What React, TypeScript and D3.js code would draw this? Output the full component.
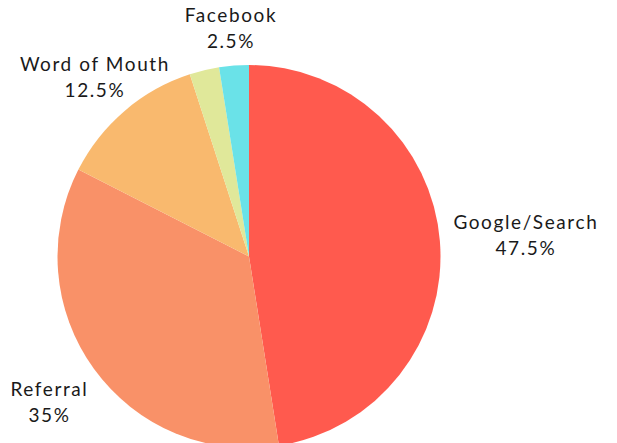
import React, { useEffect, useRef } from "react";
import * as d3 from "d3";

const categories = ["Google/Search", "Referral", "Word of Mouth", "Other", "Facebook"];
const values = [47.5, 35, 12.5, 2.5, 2.5];
const valueLabels = ["47.5%", "35%", "12.5%", "2.5%", "2.5%"];
const showLabel = [true, true, true, false, true];
const colors = ["#FF5A4E", "#F99168", "#F9B96E", "#E0E89A", "#6AE2E8"];

const W = 617;
const H = 443;

export default function App() {
  const ref = useRef<SVGSVGElement | null>(null);

  useEffect(() => {
    const svg = d3.select(ref.current);
    svg.selectAll("*").remove();
    const cx = 249;
    const cy = 256.5;
    const R = 191.5;
    const labelR = 205;

    const data = categories.map((c, i) => ({ name: c, value: values[i], pct: valueLabels[i], show: showLabel[i], color: colors[i] }));
    const pie = d3.pie<any>().value((d: any) => d.value).sort(null);
    const arcs = pie(data);
    const arc = d3.arc<any>().innerRadius(0).outerRadius(R);

    const g = svg.append("g").attr("transform", `translate(${cx},${cy})`);
    g.selectAll("path")
      .data(arcs)
      .enter()
      .append("path")
      .attr("d", arc as any)
      .attr("fill", (d: any) => d.data.color);

    arcs.forEach((a: any) => {
      if (!a.data.show) return;
      const mid = (a.startAngle + a.endAngle) / 2;
      const ux = Math.sin(mid);
      const uy = -Math.cos(mid);
      const lg = g.append("g");
      const t = lg
        .append("text")
        .attr("text-anchor", "middle")
        .attr("font-family", "Lato, 'Open Sans', sans-serif")
        .attr("font-weight", 400)
        .attr("font-size", 19)
        .attr("letter-spacing", 1.6)
        .attr("fill", "#1a1a1a");
      t.append("tspan").attr("x", 0).attr("y", 0).text(a.data.name);
      t.append("tspan").attr("x", 0).attr("y", 26).text(a.data.pct);
      const bb = (t.node() as SVGTextElement).getBBox();
      const hw = bb.width / 2;
      const hh = bb.height / 2;
      const bcx = bb.x + hw;
      const bcy = bb.y + hh;
      const tx = Math.abs(ux) > 1e-6 ? hw / Math.abs(ux) : Infinity;
      const ty = Math.abs(uy) > 1e-6 ? hh / Math.abs(uy) : Infinity;
      const d = labelR + Math.min(tx, ty);
      const px = ux * d;
      const py = uy * d;
      lg.attr("transform", `translate(${px - bcx},${py - bcy})`);
    });
  }, []);

  return (
    <svg
      ref={ref}
      width={W}
      height={H}
      style={{ position: "absolute", left: 0, top: 0, background: "#fff" }}
    />
  );
}
